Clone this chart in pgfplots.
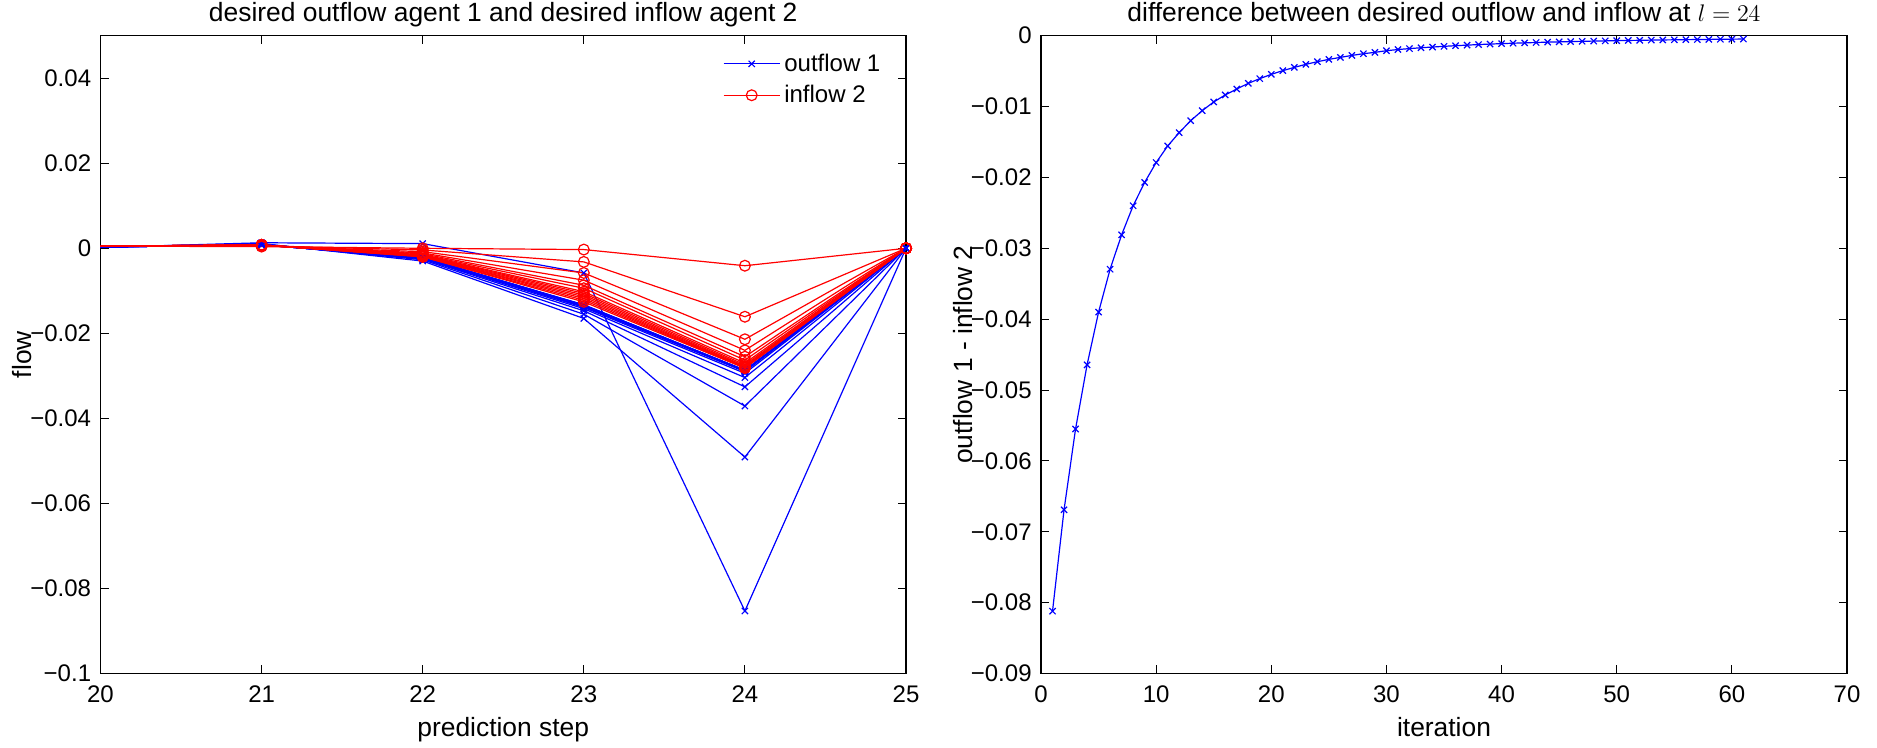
\documentclass[border=0pt]{standalone}
\usepackage{fontspec}
\setmainfont{Liberation Sans}
\usepackage{pgfplots}
\pgfplotsset{compat=1.18}
\pgfplotsset{
  myaxis/.style={
    scale only axis, height=318.9pt,
    scaled ticks=false,
    tick align=inside, tick pos=both, major tick length=4pt,
    axis line style={line width=0.7pt},
    every tick/.style={black, line width=0.5pt},
    tick label style={font=\fontsize{12}{14}\selectfont, inner sep=0pt},
    xticklabel style={anchor=base, yshift=-14.5pt},
    yticklabel style={anchor=east, xshift=-4.5pt},
    label style={font=\fontsize{13.2}{15}\selectfont},
    xlabel style={at={(axis description cs:0.5,0)}, anchor=base, yshift=-31.3pt},
    title style={font=\fontsize{13.2}{15}\selectfont, at={(axis description cs:0.5,1)}, anchor=base, yshift=1pt},
  },
  bl/.style={blue, line width=0.6pt, mark=x, mark size=2.2pt, mark indices={2,3,4,5,6}, mark options={solid, line width=0.6pt}},
  rd/.style={red, line width=0.6pt, mark=o, mark size=2.7pt, mark indices={2,3,4,5,6}, mark options={solid, line width=0.6pt}},
}
\begin{document}
\begin{tikzpicture}
\path[use as bounding box] (0,0) rectangle (938.5pt,374pt);
\begin{axis}[myaxis,
  at={(50.25pt,37.25pt)}, anchor=south west, width=402.75pt,
  xmin=20, xmax=25, ymin=-0.1, ymax=0.05,
  xtick={20,21,22,23,24,25}, xticklabels={20,21,22,23,24,25},
  ytick={-0.1,-0.08,-0.06,-0.04,-0.02,0,0.02,0.04},
  yticklabels={−0.1,−0.08,−0.06,−0.04,−0.02,0,0.02,0.04},
  xlabel={prediction step}, ylabel={flow},
  ylabel style={at={(axis description cs:-0.0857,0.5)}, anchor=base},
  title={desired outflow agent 1 and desired inflow agent 2},
  legend image code/.code={\draw[#1, mark indices={2}] plot coordinates {(0pt,0pt) (14pt,0pt) (28pt,0pt)};},
  legend style={draw=none, fill=none, font=\fontsize{12}{14}\selectfont,
    at={(axis description cs:0.765,0.985)}, anchor=north west, row sep=1.5pt},
  legend cell align=left,
]
% outflow 1 (blue), iterations 1,6,...,61
\addplot[bl] coordinates {(20,0.0002)(21,0.0013)(22,0.0011)(23,-0.0058)(24,-0.0853)(25,0)};
\addlegendentry{outflow 1}
\addplot[bl, forget plot] coordinates {(20,0.0003)(21,0.0011)(22,-0.0030)(23,-0.0165)(24,-0.0491)(25,0)};
\addplot[bl, forget plot] coordinates {(20,0.0003)(21,0.0010)(22,-0.0027)(23,-0.0155)(24,-0.0371)(25,0)};
\addplot[bl, forget plot] coordinates {(20,0.0003)(21,0.0010)(22,-0.0025)(23,-0.0147)(24,-0.0326)(25,0)};
\addplot[bl, forget plot] coordinates {(20,0.0003)(21,0.0009)(22,-0.0024)(23,-0.0142)(24,-0.0304)(25,0)};
\addplot[bl, forget plot] coordinates {(20,0.0003)(21,0.0009)(22,-0.0023)(23,-0.0139)(24,-0.0294)(25,0)};
\addplot[bl, forget plot] coordinates {(20,0.0003)(21,0.0009)(22,-0.0023)(23,-0.0137)(24,-0.0290)(25,0)};
\addplot[bl, forget plot] coordinates {(20,0.0003)(21,0.0008)(22,-0.0022)(23,-0.0136)(24,-0.0288)(25,0)};
\addplot[bl, forget plot] coordinates {(20,0.0003)(21,0.0008)(22,-0.0022)(23,-0.0135)(24,-0.0288)(25,0)};
\addplot[bl, forget plot] coordinates {(20,0.0003)(21,0.0008)(22,-0.0022)(23,-0.0134)(24,-0.0287)(25,0)};
\addplot[bl, forget plot] coordinates {(20,0.0003)(21,0.0008)(22,-0.0022)(23,-0.0134)(24,-0.0287)(25,0)};
\addplot[bl, forget plot] coordinates {(20,0.0003)(21,0.0008)(22,-0.0022)(23,-0.0133)(24,-0.0287)(25,0)};
\addplot[bl, forget plot] coordinates {(20,0.0003)(21,0.0008)(22,-0.0022)(23,-0.0133)(24,-0.0287)(25,0)};
% inflow 2 (red)
\addplot[rd] coordinates {(20,0.0005)(21,0.0004)(22,0.0000)(23,-0.0003)(24,-0.0041)(25,0)};
\addlegendentry{inflow 2}
\addplot[rd, forget plot] coordinates {(20,0.0005)(21,0.0006)(22,-0.0004)(23,-0.0032)(24,-0.0161)(25,0)};
\addplot[rd, forget plot] coordinates {(20,0.0005)(21,0.0006)(22,-0.0008)(23,-0.0058)(24,-0.0214)(25,0)};
\addplot[rd, forget plot] coordinates {(20,0.0005)(21,0.0007)(22,-0.0011)(23,-0.0075)(24,-0.0240)(25,0)};
\addplot[rd, forget plot] coordinates {(20,0.0005)(21,0.0007)(22,-0.0013)(23,-0.0087)(24,-0.0255)(25,0)};
\addplot[rd, forget plot] coordinates {(20,0.0005)(21,0.0007)(22,-0.0015)(23,-0.0094)(24,-0.0263)(25,0)};
\addplot[rd, forget plot] coordinates {(20,0.0005)(21,0.0007)(22,-0.0016)(23,-0.0102)(24,-0.0270)(25,0)};
\addplot[rd, forget plot] coordinates {(20,0.0005)(21,0.0007)(22,-0.0017)(23,-0.0106)(24,-0.0274)(25,0)};
\addplot[rd, forget plot] coordinates {(20,0.0005)(21,0.0008)(22,-0.0018)(23,-0.0110)(24,-0.0277)(25,0)};
\addplot[rd, forget plot] coordinates {(20,0.0005)(21,0.0008)(22,-0.0019)(23,-0.0114)(24,-0.0279)(25,0)};
\addplot[rd, forget plot] coordinates {(20,0.0005)(21,0.0008)(22,-0.0019)(23,-0.0118)(24,-0.0280)(25,0)};
\addplot[rd, forget plot] coordinates {(20,0.0005)(21,0.0008)(22,-0.0020)(23,-0.0122)(24,-0.0281)(25,0)};
\addplot[rd, forget plot] coordinates {(20,0.0005)(21,0.0008)(22,-0.0020)(23,-0.0126)(24,-0.0282)(25,0)};
\end{axis}

\begin{axis}[myaxis,
  at={(520.5pt,37.25pt)}, anchor=south west, width=403pt,
  xmin=0, xmax=70, ymin=-0.09, ymax=0,
  xtick={0,10,20,30,40,50,60,70}, xticklabels={0,10,20,30,40,50,60,70},
  ytick={-0.09,-0.08,-0.07,-0.06,-0.05,-0.04,-0.03,-0.02,-0.01,0},
  yticklabels={−0.09,−0.08,−0.07,−0.06,−0.05,−0.04,−0.03,−0.02,−0.01,0},
  xlabel={iteration}, ylabel={outflow 1 - inflow 2},
  ylabel style={at={(axis description cs:-0.0856,0.5)}, anchor=base},
  title={difference between desired outflow and inflow at $l=24$},
]
\addplot[blue, line width=0.6pt, mark=x, mark size=2.2pt, mark options={solid, line width=0.6pt}] table {
1 -0.0812
2 -0.0669
3 -0.0555
4 -0.04645
5 -0.0390
6 -0.03295
7 -0.0281
8 -0.0240
9 -0.0207
10 -0.0179
11 -0.01556
12 -0.01368
13 -0.01199
14 -0.01058
15 -0.00935
16 -0.00836
17 -0.00752
18 -0.00672
19 -0.00606
20 -0.00545
21 -0.00493
22 -0.00447
23 -0.00404
24 -0.00367
25 -0.00334
26 -0.00306
27 -0.00278
28 -0.00254
29 -0.00235
30 -0.00212
31 -0.00195
32 -0.00182
33 -0.00170
34 -0.00160
35 -0.00150
36 -0.00141
37 -0.00133
38 -0.00125
39 -0.00118
40 -0.00112
41 -0.00106
42 -0.00101
43 -0.00096
44 -0.00091
45 -0.00087
46 -0.00083
47 -0.00079
48 -0.00076
49 -0.00073
50 -0.00070
51 -0.00067
52 -0.00065
53 -0.00062
54 -0.00060
55 -0.00058
56 -0.00056
57 -0.00054
58 -0.00052
59 -0.00050
60 -0.00049
61 -0.00047
};
\end{axis}
\end{tikzpicture}
\end{document}
